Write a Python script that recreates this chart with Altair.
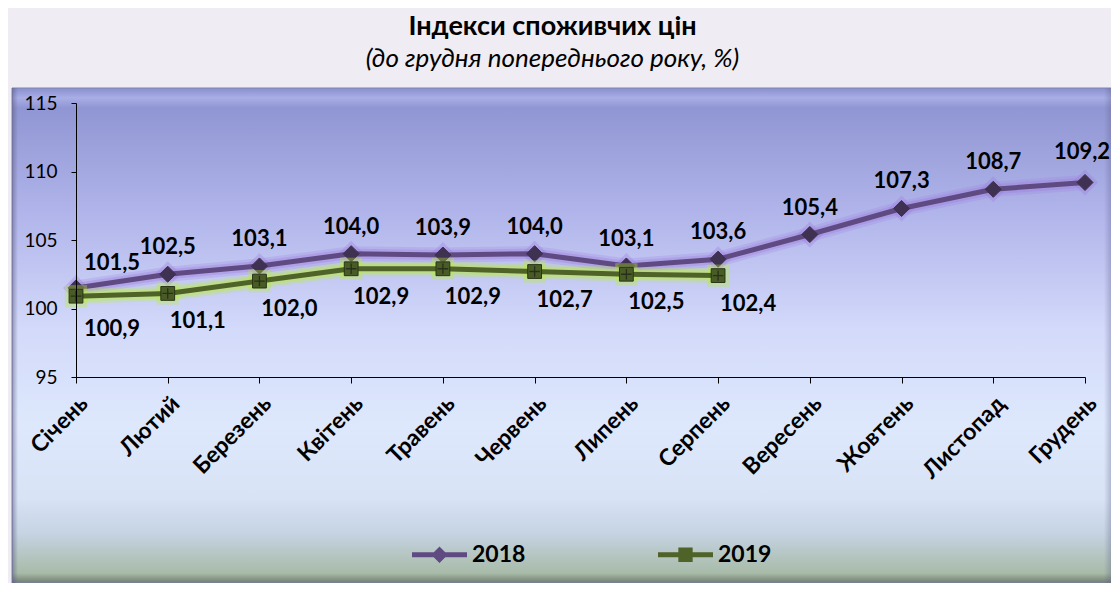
import altair as alt
import pandas as pd

months = ["Січень", "Лютий", "Березень", "Квітень", "Травень", "Червень",
          "Липень", "Серпень", "Вересень", "Жовтень", "Листопад", "Грудень"]
values_2018 = [101.5, 102.5, 103.1, 104.0, 103.9, 104.0, 103.1, 103.6, 105.4, 107.3, 108.7, 109.2]
values_2019 = [100.9, 101.1, 102.0, 102.9, 102.9, 102.7, 102.5, 102.4]
series_names = ["2018", "2019"]
y_ticks = [95, 100, 105, 110, 115]

rows = []
for name, vals in zip(series_names, [values_2018, values_2019]):
    for i, v in enumerate(vals):
        rows.append({"month": months[i], "series": name, "value": v, "idx": i,
                     "label": f"{v:.1f}".replace(".", ",")})
df = pd.DataFrame(rows)

W, H = 1009, 274
FONT = "Lato"

x_enc = alt.X("month:N", sort=months, scale=alt.Scale(padding=0),
              axis=alt.Axis(title=None, labelAngle=-45, labelFontWeight="bold",
                            labelFontSize=23, labelColor="black", labelFont=FONT,
                            domainColor="black", tickColor="black", tickSize=6,
                            labelPadding=9, grid=False, zindex=1))
y_enc = alt.Y("value:Q", scale=alt.Scale(domain=[95, 115], nice=False, zero=False),
              axis=alt.Axis(title=None, values=y_ticks, labelFontSize=19, labelColor="black",
                            labelFont=FONT, domainColor="black", tickColor="black",
                            tickSize=5, labelPadding=14, grid=False, zindex=1))

bg_grad = {"gradient": "linear", "x1": 0, "y1": 0, "x2": 0, "y2": 1,
           "stops": [{"offset": 0.0, "color": "#8a8fce"},
                     {"offset": 0.02, "color": "#a9aee6"},
                     {"offset": 0.04, "color": "#9096d3"},
                     {"offset": 0.25, "color": "#b0b4ea"},
                     {"offset": 0.49, "color": "#d3dafa"},
                     {"offset": 0.68, "color": "#dde8fc"},
                     {"offset": 0.83, "color": "#d8e3f6"},
                     {"offset": 0.90, "color": "#c5d3e3"},
                     {"offset": 0.98, "color": "#a8bba8"},
                     {"offset": 1.0, "color": "#6f7d70"}]}
edge_grad = {"gradient": "linear", "x1": 0, "y1": 0, "x2": 1, "y2": 0,
             "stops": [{"offset": 0.0, "color": "rgba(90,90,130,0)"},
                       {"offset": 1.0, "color": "rgba(90,90,130,0.55)"}]}
edge_grad_l = {"gradient": "linear", "x1": 0, "y1": 0, "x2": 1, "y2": 0,
               "stops": [{"offset": 0.0, "color": "rgba(90,90,130,0.55)"},
                         {"offset": 1.0, "color": "rgba(90,90,130,0)"}]}

one = pd.DataFrame({"a": [0]})
bg = alt.Chart(one).mark_rect(fill=bg_grad, stroke="#7f86b0", strokeWidth=1).encode(
    x=alt.value(-64), x2=alt.value(1040), y=alt.value(-15), y2=alt.value(480))
edge_r = alt.Chart(one).mark_rect(fill=edge_grad).encode(
    x=alt.value(1028), x2=alt.value(1040), y=alt.value(-15), y2=alt.value(480))
edge_l = alt.Chart(one).mark_rect(fill=edge_grad_l).encode(
    x=alt.value(-64), x2=alt.value(-58), y=alt.value(-15), y2=alt.value(480))

base = alt.Chart(df).encode(x=x_enc, y=y_enc)

styles = {
    "2018": {"line": "#5f4b82", "marker": "#3f3151", "glow": "#9f7ee0", "shape": "diamond", "size": 260},
    "2019": {"line": "#4f6228", "marker": "#4a5c26", "glow": "#b8f02a", "shape": "square", "size": 190},
}

layers = [bg, edge_r, edge_l]
for s in series_names:
    st = styles[s]
    b = base.transform_filter(alt.datum.series == s)
    layers.append(b.mark_line(color=st["glow"], strokeWidth=15, opacity=0.25, strokeCap="round", strokeJoin="round"))
    layers.append(b.mark_line(color=st["glow"], strokeWidth=10, opacity=0.35, strokeCap="round", strokeJoin="round"))
    layers.append(b.mark_point(shape=st["shape"], filled=True, color=st["glow"], size=st["size"] * 2.6, opacity=0.35))
    layers.append(b.mark_line(color=st["line"], strokeWidth=5, strokeJoin="round"))
    layers.append(b.mark_point(shape=st["shape"], filled=True, color=st["marker"], size=st["size"], opacity=1,
                               stroke="#2a3416" if s == "2019" else st["marker"], strokeWidth=1))
    if s == "2019":
        layers.append(b.mark_point(shape="M-1,0H1M0,-1V1", filled=False, color="#26301a",
                                   size=110, strokeWidth=1.3, opacity=1))

LBL = dict(fontSize=22, fontWeight="bold", font=FONT, color="black")
last18 = len(values_2018) - 1
lab18 = base.transform_filter(alt.datum.series == "2018")
layers.append(lab18.transform_filter(alt.datum.idx == 0).mark_text(dx=36, dy=-25, **LBL).encode(text="label:N"))
layers.append(lab18.transform_filter((alt.datum.idx > 0) & (alt.datum.idx < last18))
              .mark_text(dx=0, dy=-27, **LBL).encode(text="label:N"))
layers.append(lab18.transform_filter(alt.datum.idx == last18).mark_text(dx=-3, dy=-30, **LBL).encode(text="label:N"))
lab19 = base.transform_filter(alt.datum.series == "2019")
layers.append(lab19.transform_filter(alt.datum.idx == 0).mark_text(dx=36, dy=33, **LBL).encode(text="label:N"))
layers.append(lab19.transform_filter(alt.datum.idx > 0).mark_text(dx=30, dy=28, **LBL).encode(text="label:N"))

sym18 = "M-1,-0.09H1V0.09H-1Z M0,-0.3L0.3,0L0,0.3L-0.3,0Z"
sym19 = "M-1,-0.09H1V0.09H-1Z M-0.26,-0.26H0.26V0.26H-0.26Z"
legend_kw = dict(title=None, orient="none", legendX=336, legendY=424, direction="horizontal",
                 columns=2, columnPadding=132, symbolSize=3025, symbolStrokeWidth=0,
                 symbolOpacity=1, labelFontSize=23, labelFontWeight="bold", labelFont=FONT,
                 labelColor="black", labelOffset=5, padding=0)
legend_layer = base.mark_point(filled=True, opacity=0).encode(
    color=alt.Color("series:N", scale=alt.Scale(domain=series_names, range=["#5f4b82", "#4f6228"]),
                    legend=alt.Legend(**legend_kw)),
    shape=alt.Shape("series:N", scale=alt.Scale(domain=series_names, range=[sym18, sym19]),
                    legend=alt.Legend(**legend_kw)))
layers.append(legend_layer)

chart = alt.layer(*layers).properties(
    width=W, height=H,
    title=alt.TitleParams(text="Індекси споживчих цін", subtitle="(до грудня попереднього року, %)",
                          fontSize=27, fontWeight="bold", font=FONT, color="black",
                          subtitleFontSize=26, subtitleFontStyle="italic", subtitleFont=FONT,
                          subtitleColor="black", anchor="middle", dx=-28, offset=15, subtitlePadding=5),
    background="#efecf3",
    padding={"left": 68, "top": 95, "right": 26, "bottom": 206},
    autosize=alt.AutoSizeParams(type="none"),
).configure_view(stroke=None)

chart.save("out.html", embed_options={"renderer": "svg", "actions": False})
